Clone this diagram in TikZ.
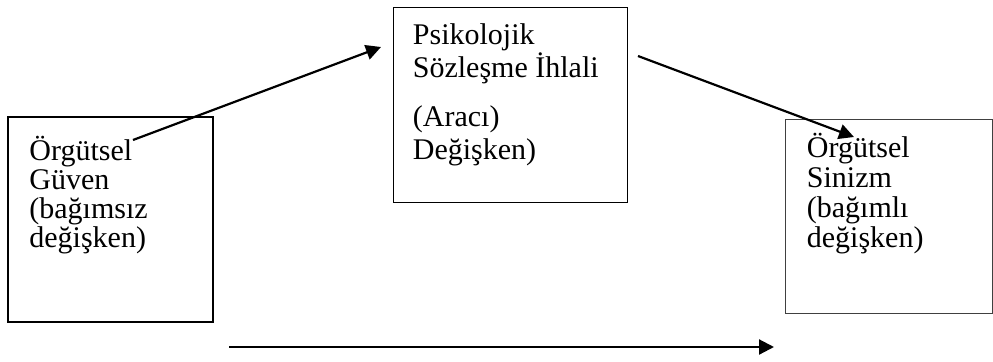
\documentclass[tikz,border=0pt]{standalone}
\usepackage{fontspec}
\setmainfont{Liberation Serif}
\usetikzlibrary{arrows.meta}
\begin{document}
\begin{tikzpicture}[x=0.5pt, y=-0.5pt,
		kutu/.style={draw, rectangle, inner sep=0pt},
		yazi/.style={anchor=base west, inner sep=0pt, align=left, font=\fontsize{15}{14.5}\selectfont},
		ok/.style={-{Triangle[length=7.5pt, width=7.5pt]}, line width=1.1pt}]
	\useasboundingbox (0,0) rectangle (993,361);
	
	% kutular
	\node[kutu, line width=1pt, minimum width=102.5pt, minimum height=102.5pt] (bagimsiz) at (110.5,219.5) {};
	\node[kutu, line width=0.5pt, minimum width=117pt, minimum height=97.5pt] (araci) at (510,104.5) {};
	\node[kutu, line width=0.5pt, draw=black!75, minimum width=103.5pt, minimum height=97pt] (bagimli) at (888.5,216) {};
	
	% metinler (son satirin taban cizgisine gore)
	\node[yazi] (bagimsizYazi) at ([shift={(22,131)}]bagimsiz.north west) {Örgütsel\\Güven\\(bağımsız\\değişken)};
	\node[yazi, font=\fontsize{15}{16.5}\selectfont] (araciYazi) at ([shift={(20,153)}]araci.north west) {Psikolojik\\Sözleşme İhlali\\[8pt](Aracı)\\Değişken)};
	\node[yazi, font=\fontsize{15}{15}\selectfont] (bagimliYazi) at ([shift={(22,129)}]bagimli.north west) {Örgütsel\\Sinizm\\(bağımlı\\değişken)};
	
	% oklar
	\coordinate (o1a) at (133,140);
	\coordinate (o1b) at (381,47);
	\coordinate (o2a) at (638,56);
	\coordinate (o2b) at (854,137);
	\coordinate (o3a) at (229,347);
	\coordinate (o3b) at (774,347);
	\draw[ok] (o1a) -- (o1b);
	\draw[ok] (o2a) -- (o2b);
	\draw[ok] (o3a) -- (o3b);
\end{tikzpicture}
\end{document}
